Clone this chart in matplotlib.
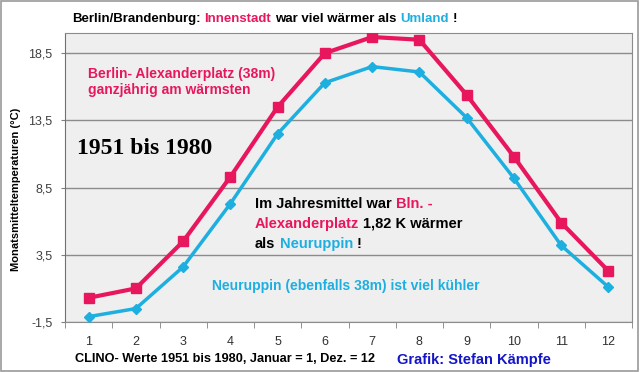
import matplotlib
matplotlib.use("Agg")
import matplotlib.pyplot as plt
from matplotlib.patches import Rectangle

# CLINO 1951-1980 monthly means
months = list(range(1, 13))
berlin_alex = [0.3, 1.0, 4.5, 9.3, 14.5, 18.5, 19.7, 19.5, 15.4, 10.8, 5.9, 2.3]
neuruppin = [-1.1, -0.5, 2.6, 7.3, 12.5, 16.3, 17.5, 17.1, 13.7, 9.2, 4.2, 1.1]
y_ticks = [-1.5, 3.5, 8.5, 13.5, 18.5]
y_tick_labels = ["-1,5", "3,5", "8,5", "13,5", "18,5"]

PINK = "#e8175d"
BLUE = "#1dafe0"
NARROW = ["Liberation Sans Narrow", "Liberation Sans", "DejaVu Sans"]
WIDE = ["Liberation Sans", "DejaVu Sans"]

W, H = 640, 372
fig = plt.figure(figsize=(W / 100, H / 100), dpi=100)
fig.patch.set_facecolor("white")
fig.patches.append(Rectangle((0.002, 0.003), 0.995, 0.993, transform=fig.transFigure,
                             fill=False, edgecolor="#9a9a9a", linewidth=1.2))

ax = fig.add_axes([65 / W, 1 - 322 / H, 567 / W, 289 / H])
ax.set_facecolor("#efefef")
ax.set_xlim(0.5, 12.5)
ax.set_ylim(-1.5, 20.0)

ax.plot(months, berlin_alex, color=PINK, lw=3, marker="s", ms=6.5, zorder=3)
ax.plot(months, neuruppin, color=BLUE, lw=2.5, marker="D", ms=5.5, zorder=3)

ax.set_yticks(y_ticks)
ax.set_yticklabels(y_tick_labels, fontsize=9, color="#404040", family=WIDE)
ax.set_xticks(months)
ax.set_xticklabels([str(m) for m in months], fontsize=9, color="#303030", family=WIDE)
ax.set_xticks([m + 0.5 for m in range(0, 13)], minor=True)
ax.tick_params(axis="x", which="major", length=0, pad=10)
ax.tick_params(axis="x", which="minor", length=4, color="#808080")
ax.tick_params(axis="y", length=3, color="#808080", pad=6)
ax.grid(axis="y", color="#8c8c8c", lw=1)
ax.set_axisbelow(True)
for s in ax.spines.values():
    s.set_color("#8c8c8c")
ax.spines["left"].set_color("#707070")


def px(x, y):
    return x / W, 1 - y / H


def color_text(x, y, parts, size, family, gap=3.0):
    # chain the pieces: each one starts where the previous one ends
    prev = None
    for txt, col in parts:
        if prev is None:
            prev = fig.text(*px(x, y), txt, color=col, fontsize=size, fontweight="bold",
                            family=family, va="baseline", ha="left")
        else:
            prev = ax.annotate(txt, xy=(1, 0), xycoords=prev, xytext=(gap, 0),
                               textcoords="offset points", color=col, fontsize=size,
                               fontweight="bold", family=family, va="bottom", ha="left",
                               annotation_clip=False)
    return prev


color_text(72, 22, [("Berlin/Brandenburg:", "black"), ("Innenstadt", PINK),
                    ("war viel wärmer als", "black"), ("Umland", BLUE), ("!", "black")],
           9.5, NARROW, gap=2.8)

fig.text(*px(16, 189), "Monatsmitteltemperaturen (°C)", rotation=90, fontsize=8,
         fontweight="bold", family=NARROW, ha="center", va="center")

fig.text(*px(88, 82), "Berlin- Alexanderplatz (38m)\nganzjährig am wärmsten", color=PINK,
         fontsize=10, fontweight="bold", family=NARROW, ha="left", va="center",
         linespacing=1.2)

fig.text(*px(77, 148), "1951 bis 1980", fontsize=17, fontweight="bold",
         family=["Liberation Serif", "DejaVu Serif"], ha="left", va="center")

color_text(255, 208, [("Im Jahresmittel war", "black"), ("Bln. -", PINK)], 10.5, WIDE)
color_text(255, 228, [("Alexanderplatz", PINK), ("1,82 K wärmer", "black")], 10.5, WIDE)
color_text(255, 248, [("als", "black"), ("Neuruppin", BLUE), ("!", "black")], 10.5, WIDE)

fig.text(*px(212, 286), "Neuruppin (ebenfalls 38m) ist viel kühler", color=BLUE,
         fontsize=10, fontweight="bold", family=NARROW, ha="left", va="center")

fig.text(*px(75, 359), "CLINO- Werte 1951 bis 1980, Januar = 1, Dez. = 12", fontsize=9.2,
         fontweight="bold", family=NARROW, ha="left", va="center")
fig.text(*px(397, 360), "Grafik: Stefan Kämpfe", color="#1515c8", fontsize=10.5,
         fontweight="bold", family=WIDE, ha="left", va="center")

fig.savefig("out.png", dpi=100)
